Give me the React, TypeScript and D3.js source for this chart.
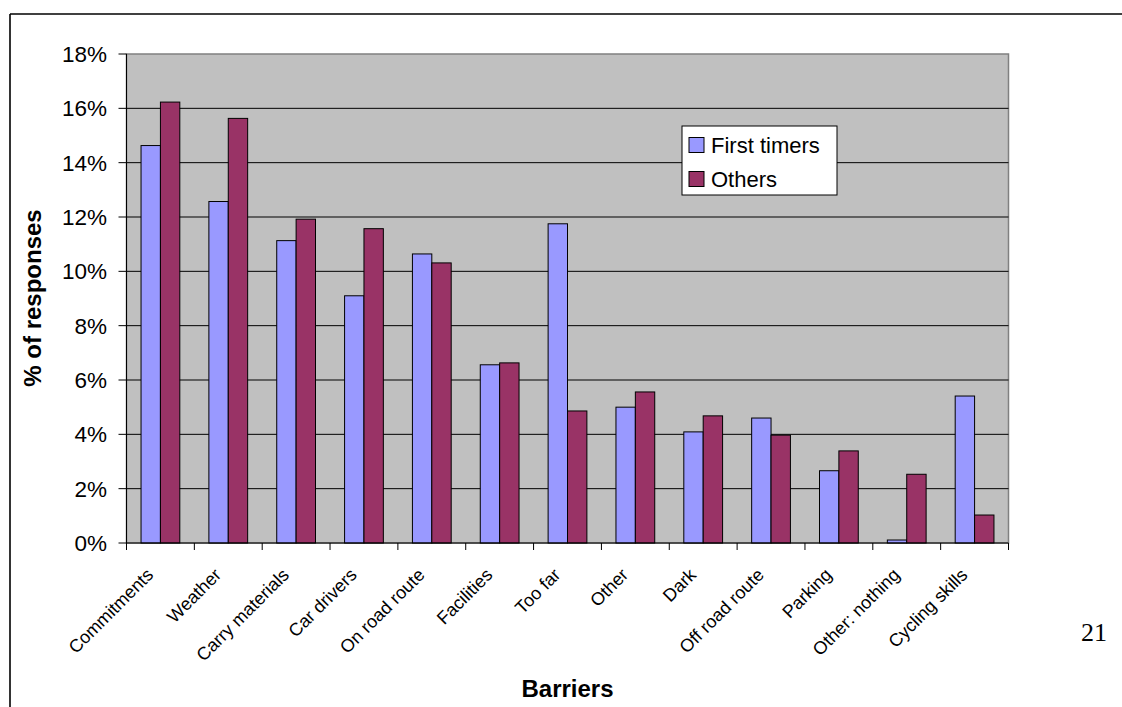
import React from "react";
import * as d3 from "d3";

const categories = [
  "Commitments",
  "Weather",
  "Carry materials",
  "Car drivers",
  "On road route",
  "Facilities",
  "Too far",
  "Other",
  "Dark",
  "Off road route",
  "Parking",
  "Other: nothing",
  "Cycling skills",
];

const seriesNames = ["First timers", "Others"];
const firstTimers = [14.63, 12.57, 11.13, 9.1, 10.64, 6.56, 11.75, 5.0, 4.09, 4.6, 2.66, 0.11, 5.41];
const others = [16.23, 15.63, 11.92, 11.57, 10.31, 6.63, 4.86, 5.56, 4.68, 3.97, 3.39, 2.53, 1.03];
const yTicks = [0, 2, 4, 6, 8, 10, 12, 14, 16, 18];
const colors = ["#9999FF", "#993366"];

const W = 1122;
const H = 707;
const plot = { left: 126.5, right: 1008.5, top: 54, bottom: 543 };
const font = "Arial, 'Liberation Sans', Helvetica, sans-serif";

export default function App() {
  const x = d3.scaleBand<string>().domain(categories).range([plot.left, plot.right]).padding(0);
  const step = x.step();
  const bw = step / 3.5;
  const x1 = d3
    .scaleBand<string>()
    .domain(seriesNames)
    .range([0.75 * bw, 2.75 * bw])
    .padding(0);
  const y = d3.scaleLinear().domain([0, 18]).range([plot.bottom, plot.top]);
  const values = [firstTimers, others];
  const boundaries = d3.range(categories.length + 1).map((i) => plot.left + i * step);

  return (
    <svg
      width={W}
      height={H}
      style={{ position: "absolute", left: 0, top: 0, background: "#fff" }}
      fontFamily={font}
    >
      {/* page frame */}
      <line x1={10} y1={14} x2={W} y2={14} stroke="#000" strokeWidth={1.6} />
      <line x1={10} y1={14} x2={10} y2={H} stroke="#000" strokeWidth={1.6} />

      {/* plot area */}
      <rect
        x={plot.left}
        y={plot.top}
        width={plot.right - plot.left}
        height={plot.bottom - plot.top}
        fill="#C0C0C0"
        stroke="#808080"
        strokeWidth={1.5}
      />
      {yTicks.slice(1, -1).map((t) => (
        <line key={t} x1={plot.left} x2={plot.right} y1={y(t)} y2={y(t)} stroke="#000" strokeWidth={1} />
      ))}

      {/* bars */}
      {categories.map((c, i) =>
        seriesNames.map((s, k) => (
          <rect
            key={c + s}
            x={(x(c) as number) + (x1(s) as number)}
            y={y(values[k][i])}
            width={x1.bandwidth()}
            height={plot.bottom - y(values[k][i])}
            fill={colors[k]}
            stroke="#000"
            strokeWidth={1}
          />
        ))
      )}

      {/* axes */}
      <line x1={plot.left} x2={plot.left} y1={plot.top} y2={plot.bottom} stroke="#000" strokeWidth={1} />
      <line x1={plot.left} x2={plot.right} y1={plot.bottom} y2={plot.bottom} stroke="#000" strokeWidth={1} />
      {yTicks.map((t) => (
        <g key={t}>
          <line x1={plot.left - 8} x2={plot.left} y1={y(t)} y2={y(t)} stroke="#000" strokeWidth={1} />
          <text x={107} y={y(t)} dy="0.36em" textAnchor="end" fontSize={22.5} fill="#000">
            {t}%
          </text>
        </g>
      ))}
      {boundaries.map((bx, i) => (
        <line key={i} x1={bx} x2={bx} y1={plot.bottom} y2={plot.bottom + 7} stroke="#000" strokeWidth={1} />
      ))}
      {categories.map((c) => {
        const cx = (x(c) as number) + step / 2 - 6;
        const cy = 576;
        return (
          <text
            key={c}
            x={cx}
            y={cy}
            textAnchor="end"
            fontSize={18}
            fill="#000"
            transform={`rotate(-45 ${cx} ${cy})`}
          >
            {c}
          </text>
        );
      })}

      {/* axis titles */}
      <text x={567.5} y={697} textAnchor="middle" fontSize={24} fontWeight="bold" fill="#000">
        Barriers
      </text>
      <text
        x={0}
        y={0}
        textAnchor="middle"
        fontSize={24}
        fontWeight="bold"
        fill="#000"
        transform={`translate(41 298) rotate(-90)`}
      >
        % of responses
      </text>

      {/* legend */}
      <rect x={682} y={126} width={155} height={69} fill="#fff" stroke="#000" strokeWidth={1} />
      {seriesNames.map((s, k) => (
        <g key={s} transform={`translate(689 ${137.5 + k * 34})`}>
          <rect x={0} y={0} width={15} height={15} fill={colors[k]} stroke="#000" strokeWidth={1} />
          <text x={22} y={15} fontSize={22} fill="#000">
            {s}
          </text>
        </g>
      ))}

      {/* page number */}
      <text x={1081} y={641} fontSize={26} fontFamily="'Liberation Serif', 'Times New Roman', serif" fill="#000">
        21
      </text>
    </svg>
  );
}
